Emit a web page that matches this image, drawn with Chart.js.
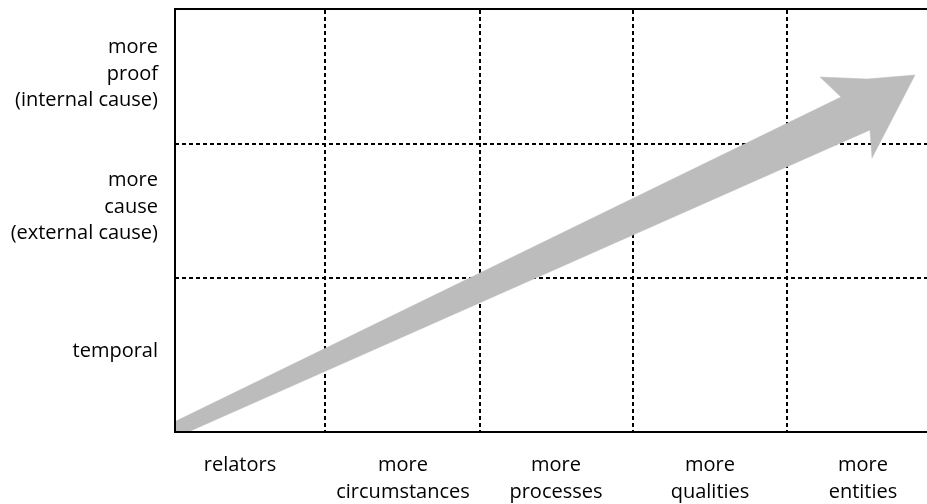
<!DOCTYPE html>
<html>
<head>
<meta charset="utf-8">
<script src="https://cdn.jsdelivr.net/npm/chart.js@4.4.0/dist/chart.umd.min.js"></script>
<style>
  html, body { margin: 0; padding: 0; background: #fff; overflow: hidden; }
</style>
</head>
<body>
<canvas id="chart" width="927" height="504"></canvas>
<script>
// plot units: x = pixels right of the left axis, y = pixels above the bottom axis
const xLabels = ["relators", ["more", "circumstances"], ["more", "processes"], ["more", "qualities"], ["more", "entities"]];
const xLabelPos = [65, 228, 381, 535, 688];
const xGridLines = [149.5, 304.5, 457.5, 611.5];

const yLabels = ["temporal", ["more", "cause", "(external cause)"], ["more", "proof", "(internal cause)"]];
const yLabelPos = [81, 225, 358];
const yGridLines = [154, 288];

// outline of the grey arrow, tail -> head -> back to tail
const arrowX = [-5, 666, 645, 692, 740, 697, 695, -5];
const arrowY = [8, 335, 355, 353, 357, 274, 302, -8];

const X_MAX = 752;
const Y_MAX = 423;
const FONT = { family: "'Open Sans', sans-serif", size: 20, lineHeight: 1.33 };

// labels sit inside the plot height, so drop the edge padding chart.js reserves for them
function noEdgePad(s) {
  s.paddingTop = 0;
  s.paddingBottom = 0;
  s.paddingLeft = 0;
  s.paddingRight = 0;
}

new Chart(document.getElementById("chart"), {
  type: "scatter",
  data: {
    datasets: [
      {
        data: arrowX.map((x, i) => ({ x, y: arrowY[i] })),
        showLine: true,
        fill: "shape",
        backgroundColor: "#bcbcbc",
        borderColor: "#bcbcbc",
        borderWidth: 0.5,
        pointRadius: 0,
        tension: 0,
      },
    ],
  },
  options: {
    responsive: false,
    animation: false,
    layout: { padding: { top: 9, left: 0, right: 0, bottom: 0 } },
    plugins: { legend: { display: false }, tooltip: { enabled: false } },
    scales: {
      x: {
        type: "linear",
        position: "bottom",
        min: 0,
        max: X_MAX,
        afterBuildTicks: (s) => { s.ticks = xLabelPos.map((v) => ({ value: v })); },
        afterFit: (s) => { s.height = 72; noEdgePad(s); },
        ticks: {
          autoSkip: false,
          maxRotation: 0,
          padding: 20,
          color: "#000",
          font: FONT,
          callback: (v, i) => xLabels[i],
        },
        grid: { display: false, drawTicks: false },
        border: { display: true, color: "#000", width: 2, z: 1 },
      },
      xg: {
        type: "linear",
        position: "top",
        min: 0,
        max: X_MAX,
        afterBuildTicks: (s) => { s.ticks = xGridLines.map((v) => ({ value: v })); },
        afterFit: (s) => { s.height = 0; noEdgePad(s); },
        ticks: { display: false },
        grid: { display: true, drawTicks: false, color: "#000", lineWidth: 2 },
        border: { display: true, color: "#000", width: 2, dash: [4, 3], z: 1 },
      },
      y: {
        type: "linear",
        position: "left",
        min: 0,
        max: Y_MAX,
        afterBuildTicks: (s) => { s.ticks = yLabelPos.map((v) => ({ value: v })); },
        afterFit: (s) => { s.width = 175; noEdgePad(s); },
        ticks: {
          autoSkip: false,
          padding: 17,
          color: "#000",
          font: FONT,
          callback: (v, i) => yLabels[i],
        },
        grid: { display: false, drawTicks: false },
        border: { display: true, color: "#000", width: 2, z: 1 },
      },
      yg: {
        type: "linear",
        position: "right",
        min: 0,
        max: Y_MAX,
        afterBuildTicks: (s) => { s.ticks = yGridLines.map((v) => ({ value: v })); },
        afterFit: (s) => { s.width = 0; noEdgePad(s); },
        ticks: { display: false },
        grid: { display: true, drawTicks: false, color: "#000", lineWidth: 2 },
        border: { display: false, dash: [4, 3] },
      },
    },
  },
});
</script>
</body>
</html>
